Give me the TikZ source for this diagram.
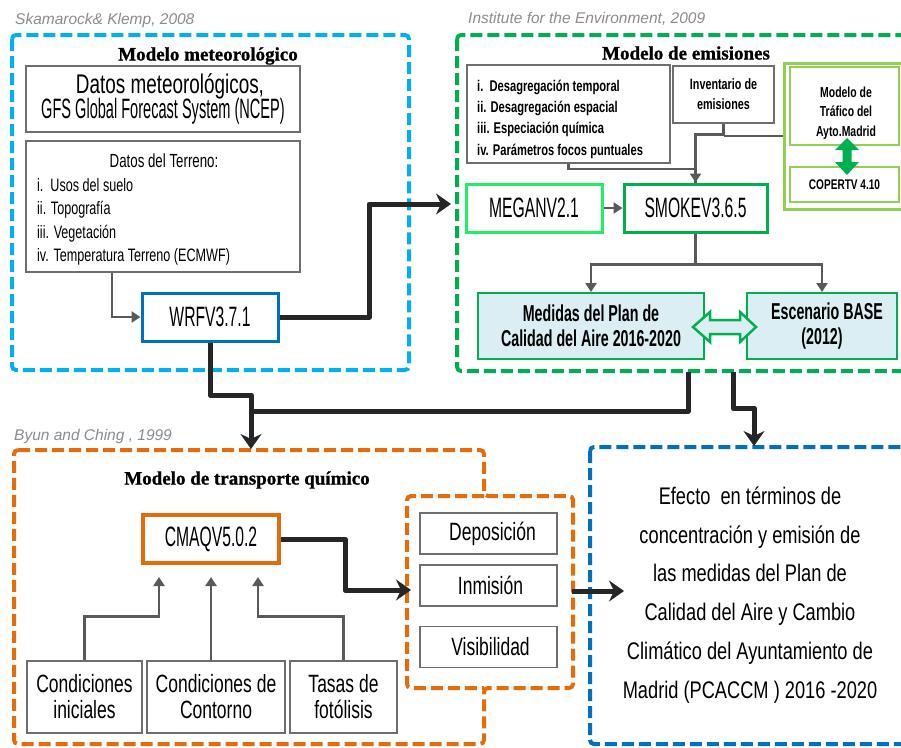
\documentclass[tikz,border=0pt]{standalone}
\usepackage{fontspec}
\setmainfont{Liberation Sans}
\newfontfamily\cond[FakeStretch=0.70]{Liberation Sans}
\newfontfamily\condw[FakeStretch=0.56]{Liberation Sans}
\newfontfamily\condn[FakeStretch=0.52]{Liberation Sans}
\newfontfamily\conde[FakeStretch=0.76]{Liberation Sans}
\newfontfamily\condb[FakeStretch=0.72]{Liberation Sans}
\newfontfamily\condc[FakeStretch=0.62]{Liberation Sans}
\newfontfamily\titfont[FakeBold=1]{Liberation Serif}
\usetikzlibrary{arrows.meta,calc}
\definecolor{cyanb}{HTML}{00B0F0}
\definecolor{greenb}{HTML}{00B050}
\definecolor{lgreen}{HTML}{92D050}
\definecolor{brgreen}{HTML}{22EE66}
\definecolor{orangeb}{HTML}{E46C0A}
\definecolor{blueb}{HTML}{0070C0}
\definecolor{lblue}{HTML}{DAEEF3}
\definecolor{grline}{HTML}{595959}
\definecolor{dkline}{HTML}{262626}
\definecolor{boxgray}{HTML}{6E6E6E}
\definecolor{citegray}{HTML}{8C8C8C}
\begin{document}
\begin{tikzpicture}[x=1pt,y=-1pt,
  dashbox/.style={line width=4pt, dash pattern=on 12pt off 5pt, rounded corners=4pt},
  gbox/.style={draw=boxgray, line width=1.6pt, inner sep=0pt, align=center},
  cbox/.style={line width=3pt, inner sep=0pt, align=center},
  grayarrow/.style={draw=grline, line width=2.6pt, -{Triangle[length=9pt,width=11pt]}},
  grayline/.style={draw=grline, line width=2.6pt},
  darkarrow/.style={draw=dkline, line width=5pt, line join=round, -{Stealth[length=15pt,width=21pt,inset=5pt]}},
  darkline/.style={draw=dkline, line width=5pt, line join=round},
  cite/.style={anchor=west, text=citegray, font=\itshape\fontsize{15.5}{16}\selectfont, inner sep=0pt},
  titl/.style={font=\titfont\bfseries\fontsize{19}{20}\selectfont, inner sep=0pt},
  big/.style={font=\condw\fontsize{28}{29}\selectfont},
  mid/.style={font=\cond\fontsize{25}{26}\selectfont}
]
\useasboundingbox (0,0) rectangle (901,747);
\clip (0,0) rectangle (901,747);
\fill[white] (0,0) rectangle (901,747);

% ---------- citations ----------
\node[cite] (c1) at (15,20) {Skamarock\& Klemp, 2008};
\node[cite] (c2) at (468,19) {Institute for the Environment, 2009};
\node[cite] (c3) at (14,436) {Byun and Ching , 1999};

% ---------- group frames ----------
\draw[dashbox, cyanb] (12,35) rectangle (409,370);
\draw[dashbox, greenb] (457,35) rectangle (912,371);
\draw[dashbox, orangeb] (14,450) -- (484,450) -- (484,496) -- (573,496) -- (573,688) -- (484,688) -- (484,744) -- (14,744) -- cycle;
\draw[dashbox, orangeb] (484,496) -- (407,496) -- (407,688) -- (484,688);
\draw[dashbox, blueb] (590,447) rectangle (912,744);

% ---------- titles ----------
\node[titl] (t1) at (208,56) {Modelo meteorológico};
\node[titl] (t2) at (686,53) {Modelo de emisiones};
\node[titl] (t3) at (247,480) {Modelo de transporte químico};

% ---------- meteorological model ----------
\node[gbox, minimum width=274pt, minimum height=66pt] (met1) at (163,99) {{\cond\fontsize{27}{28}\selectfont\hspace{14pt}Datos meteorológicos,}\\[-1pt]{\condn\fontsize{28}{28}\selectfont GFS Global Forecast System (NCEP)}};
\node[gbox, minimum width=274pt, minimum height=131pt] (met2) at (163,206.5) {};
\node[font=\cond\fontsize{19}{20}\selectfont, inner sep=0pt] (dt) at (164,161) {Datos del Terreno:};
\node[anchor=west, align=left, inner sep=0pt, font=\cond\fontsize{18}{23.5}\selectfont] (dtl) at (37,222) {i.\ \ Usos del suelo\\ii. Topografía\\iii. Vegetación\\iv. Temperatura Terreno (ECMWF)};
\node[cbox, draw=blueb, minimum width=136pt, minimum height=48pt, big] (wrf) at (210,317) {WRFV3.7.1};

% ---------- emission model ----------
\node[gbox, minimum width=203pt, minimum height=98pt] (emis1) at (568.5,114) {};
\node[anchor=west, align=left, inner sep=0pt, font=\condb\bfseries\fontsize{15.5}{21.3}\selectfont] (eml) at (477,119) {i.\ \ Desagregación temporal\\ii. Desagregación espacial\\iii. Especiación química\\iv. Parámetros focos puntuales};
\node[gbox, minimum width=101pt, minimum height=57pt, font=\condb\bfseries\fontsize{15}{20}\selectfont] (inv) at (723.5,94.5) {Inventario de\\emisiones};
\node[draw=lgreen, line width=3pt, minimum width=121pt, minimum height=146pt, inner sep=0pt] (trafg) at (844.5,136) {};
\node[draw=lgreen, line width=2pt, minimum width=109pt, minimum height=78pt, inner sep=0pt] (traf) at (844.5,106) {};
\node[align=center, inner sep=0pt, font=\condb\bfseries\fontsize{14.5}{19.5}\selectfont] (traft) at (846,113) {Modelo de\\Tráfico del\\Ayto.Madrid};
\node[draw=lgreen, line width=2pt, minimum width=109pt, minimum height=35pt, inner sep=0pt, font=\condb\bfseries\fontsize{14}{15}\selectfont] (copert) at (844.5,184.5) {COPERTV 4.10};
\fill[greenb] (847,138) -- (859,150) -- (851.5,150) -- (851.5,162) -- (859,162) -- (847,175) -- (835,162) -- (842.5,162) -- (842.5,150) -- (835,150) -- cycle;

\node[cbox, draw=brgreen, minimum width=136pt, minimum height=48pt, big] (megan) at (534,208) {MEGANV2.1};
\node[cbox, draw=greenb, minimum width=143pt, minimum height=48pt, big] (smoke) at (695.5,208) {SMOKEV3.6.5};

\node[draw=greenb, fill=lblue, line width=2pt, minimum width=226pt, minimum height=66pt, inner sep=0pt, align=center, font=\condc\bfseries\fontsize{23}{25}\selectfont] (medidas) at (591,326) {Medidas del Plan de\\Calidad del Aire 2016-2020};
\node[draw=greenb, fill=lblue, line width=2pt, minimum width=150pt, minimum height=66pt, inner sep=0pt, align=center, font=\condc\bfseries\fontsize{23}{25}\selectfont] (base) at (822,326) {\hspace{10pt}Escenario BASE\\(2012)};
\draw[draw=greenb, fill=lblue, line width=2.5pt, line join=miter] (693,327) -- (710,312) -- (710,320) -- (740,320) -- (740,312) -- (756,327) -- (740,342) -- (740,334) -- (710,334) -- (710,342) -- cycle;

% ---------- chemical transport model ----------
\node[cbox, draw=orangeb, line width=4pt, minimum width=136pt, minimum height=48pt, big] (cmaq) at (211,539) {CMAQV5.0.2};
\node[gbox, minimum width=115pt, minimum height=72pt, mid] (ci) at (84.5,697) {Condiciones\\iniciales};
\node[gbox, minimum width=138pt, minimum height=72pt, mid] (cc) at (216,697) {Condiciones de\\Contorno};
\node[gbox, minimum width=107pt, minimum height=72pt, mid] (tf) at (343.5,697) {Tasas de\\fotólisis};
\node[gbox, minimum width=137pt, minimum height=41pt, mid] (dep) at (488.5,533.5) {\hspace{8pt}Deposición};
\node[gbox, minimum width=137pt, minimum height=41pt, mid] (inm) at (488.5,585.5) {\hspace{4pt}Inmisión};
\node[gbox, minimum width=137pt, minimum height=41pt, mid] (vis) at (488.5,647) {\hspace{4pt}Visibilidad};

% ---------- result ----------
\node[align=center, inner sep=0pt, font=\conde\fontsize{24}{38.8}\selectfont] (efecto) at (750,595) {Efecto\ \ en términos de\\concentración y emisión de\\las medidas del Plan de\\Calidad del Aire y Cambio\\Climático del Ayuntamiento de\\Madrid (PCACCM ) 2016 -2020};

% ---------- free ends ----------
\coordinate (gin) at (451,204);
\coordinate (j1) at (369,204);
\coordinate (j2) at (251,395);
\coordinate (oin) at (251,449);
\coordinate (gout1) at (688,372);
\coordinate (j3) at (251,411);
\coordinate (gout2) at (733,372);
\coordinate (j4) at (754,408);
\coordinate (bin) at (754,446);
\coordinate (oin2) at (411,590);
\coordinate (j5) at (345,590);
\coordinate (oout) at (572,591);
\coordinate (bin2) at (624,591);

% ---------- gray connectors ----------
\draw[grayarrow] ([xshift=-51pt]met2.south) |- (wrf.west);
\draw[grayline] (emis1.south) -- ++(0,5) -| (smoke.north);
\draw[grayline] (trafg.west) -- (inv.south |- trafg.west);
\draw[grayarrow] (inv.south) |- ($(smoke.north)+(0,-48)$) -- (smoke.north);
\draw[grayarrow] (megan.east) -- (smoke.west);
\draw[grayarrow] (smoke.south) -- ++(0,31) -| (medidas.north);
\draw[grayarrow] (smoke.south) -- ++(0,31) -| (base.north);
\draw[grayarrow] (ci.north) -- ++(0,-44) -| ([xshift=-52pt,yshift=-12pt]cmaq.south);
\draw[grayarrow] (cc.north -| cmaq.south) -- ([yshift=-12pt]cmaq.south);
\draw[grayarrow] (tf.north) -- ++(0,-44) -| ([xshift=47pt,yshift=-12pt]cmaq.south);

% ---------- dark connectors ----------
\draw[darkarrow] (wrf.east) -| (j1) -- (gin);
\draw[darkarrow] (wrf.south) |- (j2) -- (oin);
\draw[darkline] (gout1) |- (j3);
\draw[darkarrow] (gout2) |- (j4) -- (bin);
\draw[darkarrow] (cmaq.east) -| (j5) -- (oin2);
\draw[darkarrow] (oout) -- (bin2);
\end{tikzpicture}
\end{document}
